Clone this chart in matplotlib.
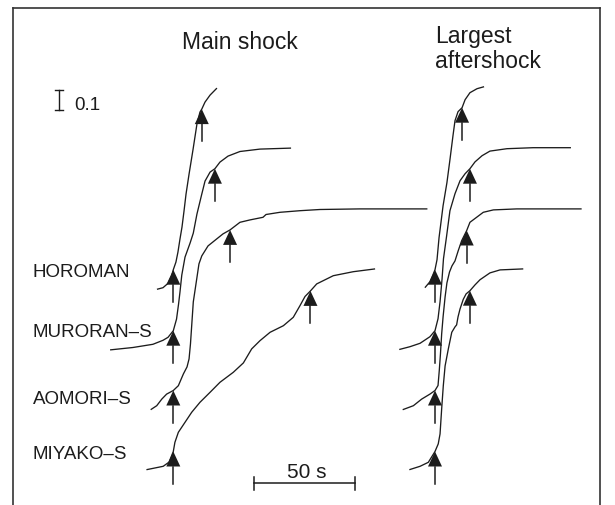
import matplotlib
matplotlib.use("Agg")
import matplotlib.pyplot as plt
from matplotlib.lines import Line2D
import numpy as np

plt.rcParams['font.family'] = ['Liberation Sans', 'DejaVu Sans']

# 台站名
stations = ["HOROMAN", "MURORAN\u2013S", "AOMORI\u2013S", "MIYAKO\u2013S"]

# 主震: 以第一个到时为零点的时间 (s) 与累积振幅
main_t = [
    [-8.1, -5.1, -2.6, -0.9, 0, 1.3, 2.3, 3.3, 4.3, 5.3, 6.3, 7.8, 9.8, 11.7, 13.2, 14.1, 15.7, 18.2, 21.6],
    [-31.3, -20.0, -10.1, -5.1, -2.6, 0, 1.6, 2.6, 3.3, 4.2, 5.8, 8.3, 9.9, 11.7, 14.1, 15.7, 18.2, 20.6,
     23.1, 27.1, 33.0, 42.9, 58.3],
    [-11.2, -8.2, -5.7, -3.3, 0, 2.5, 5.0, 6.8, 7.8, 8.5, 9.1, 9.9, 11.6, 12.7, 14.1, 17.2, 21.5, 24.6, 28.1,
     33.0, 38.0, 44.4, 45.9, 52.8, 62.7, 72.6, 92.4, 125.8],
    [-13.3, -5.0, -2.1, 0, 0.8, 2.5, 5.8, 9.1, 13.2, 18.2, 23.1, 29.7, 34.7, 38.8, 42.9, 47.9, 54.5, 59.4,
     62.7, 65.2, 67.9, 71.0, 79.2, 89.1, 99.9],
]
main_amp = [
    [-0.098, -0.09, -0.068, -0.033, 0, 0.038, 0.088, 0.153, 0.213, 0.293, 0.378, 0.478, 0.603, 0.728, 0.788,
     0.803, 0.838, 0.873, 0.908],
    [-0.096, -0.084, -0.068, -0.048, -0.033, 0, 0.058, 0.133, 0.193, 0.278, 0.368, 0.438, 0.488, 0.583, 0.683,
     0.748, 0.793, 0.81, 0.843, 0.873, 0.896, 0.908, 0.913],
    [-0.096, -0.076, -0.043, -0.018, 0, 0.024, 0.083, 0.118, 0.158, 0.233, 0.323, 0.443, 0.558, 0.633, 0.673,
     0.723, 0.758, 0.783, 0.803, 0.841, 0.853, 0.866, 0.88, 0.891, 0.899, 0.905, 0.908, 0.908],
    [-0.091, -0.074, -0.053, 0, 0.046, 0.096, 0.146, 0.196, 0.246, 0.296, 0.346, 0.396, 0.443, 0.513, 0.554,
     0.596, 0.629, 0.671, 0.729, 0.775, 0.803, 0.838, 0.879, 0.899, 0.913],
]
main_pick2 = [14.1, 20.6, 28.1, 67.9]

# 最大余震
aft_t = [
    [-5.0, -2.5, -1.0, 0, 1.0, 2.0, 4.0, 5.9, 7.4, 8.9, 9.9, 11.4, 13.4, 14.9, 17.3, 20.8, 24.3],
    [-17.7, -12.4, -7.4, -2.5, 0, 1.5, 2.5, 3.5, 4.2, 5.7, 7.4, 9.9, 12.4, 14.9, 17.3, 19.8, 23.3, 27.2,
     35.6, 48.5, 67.3],
    [-16.0, -10.7, -6.6, -2.5, 0, 1.5, 2.1, 2.7, 3.3, 4.0, 5.0, 5.9, 7.2, 8.4, 9.9, 11.5, 13.2, 15.7, 17.3,
     20.6, 23.9, 28.9, 40.5, 72.6],
    [-12.7, -7.4, -3.3, 0, 1.6, 2.5, 3.3, 4.1, 5.0, 6.6, 8.3, 9.9, 10.7, 11.4, 12.4, 14.0, 15.4, 17.3, 19.8,
     22.3, 27.2, 32.2, 43.7],
]
aft_amp = [
    [-0.09, -0.06, -0.025, 0, 0.05, 0.16, 0.32, 0.435, 0.55, 0.67, 0.745, 0.79, 0.81, 0.85, 0.885, 0.905, 0.915],
    [-0.094, -0.08, -0.063, -0.03, 0, 0.06, 0.145, 0.26, 0.36, 0.47, 0.6, 0.685, 0.75, 0.785, 0.81, 0.844,
     0.875, 0.898, 0.91, 0.915, 0.915],
    [-0.096, -0.076, -0.043, -0.018, 0, 0.025, 0.098, 0.183, 0.283, 0.368, 0.468, 0.538, 0.593, 0.623, 0.648,
     0.699, 0.749, 0.80, 0.841, 0.866, 0.891, 0.903, 0.908, 0.908],
    [-0.091, -0.074, -0.054, 0, 0.038, 0.088, 0.213, 0.328, 0.428, 0.513, 0.596, 0.623, 0.633, 0.673, 0.713,
     0.761, 0.788, 0.804, 0.833, 0.859, 0.893, 0.908, 0.913],
]
aft_pick2 = [13.4, 17.3, 15.7, 17.3]

W, H = 615, 506
PX_PER_S = 2.02      # 50 s = 101 px
PX_PER_UNIT = 200.0  # 0.1 = 20 px
INK = '#1c1c1c'

fig = plt.figure(figsize=(W / 100, H / 100), dpi=100)
ax = fig.add_axes([0, 0, 1, 1])
ax.set_xlim(0, W / PX_PER_S)
ax.set_ylim(-H / PX_PER_UNIT, 0)
ax.axis('off')


def px(x, y):
    """像素坐标 -> 数据坐标"""
    return x / PX_PER_S, -y / PX_PER_UNIT


def fx(x):
    return x / W


def fy(y):
    return 1 - y / H


# 各台站起始到时的像素高度, 两个面板的到时横坐标
row_y = [270.7, 331.7, 391.5, 452.5]
panel_x = [173.3, 435.0]

tri_h = 15 / PX_PER_UNIT
tri_w = 7 / PX_PER_S
stem = 32 / PX_PER_UNIT


def draw_pick(x, y):
    ax.fill([x - tri_w, x, x + tri_w], [y - tri_h, y, y - tri_h], color=INK, lw=0, zorder=4)
    ax.plot([x, x], [y - tri_h, y - stem], color=INK, lw=1.1, zorder=4)


for p, (ts, amps, picks) in enumerate([(main_t, main_amp, main_pick2), (aft_t, aft_amp, aft_pick2)]):
    x0, _ = px(panel_x[p], 0)
    for i in range(4):
        _, y0 = px(0, row_y[i])
        t = np.array(ts[i])
        a = np.array(amps[i])
        ax.plot(x0 + t, y0 + a, color=INK, lw=0.95, solid_capstyle='butt', zorder=3)
        draw_pick(x0, y0 + np.interp(0, t, a))
        draw_pick(x0 + picks[i], y0 + np.interp(picks[i], t, a))

# 边框 (无底边)
for xs, ys in [([13, 13], [8.5, 506]), ([13, 600], [8.5, 8.5]), ([600, 600], [8.5, 506])]:
    fig.add_artist(Line2D([fx(v) for v in xs], [fy(v) for v in ys], color='#333333', lw=1.2))

# 标题
ax.text(fx(240), fy(49.3), "Main shock", transform=ax.transAxes, ha='center', va='baseline', fontsize=16.5, color=INK)
ax.text(fx(435), fy(43.3), "Largest", transform=ax.transAxes, ha='left', va='baseline', fontsize=16.5, color=INK)
ax.text(fx(435), fy(68.3), "aftershock", transform=ax.transAxes, ha='left', va='baseline', fontsize=16.5, color=INK)

# 台站名
label_base = [277.3, 337.3, 404.5, 459.0]
for name, yb in zip(stations, label_base):
    ax.text(fx(33), fy(yb), name, transform=ax.transAxes, ha='left', va='baseline', fontsize=13.5, color=INK)

# 振幅比例尺 0.1
bx, by = px(59, 110.5)
ax.plot([bx, bx], [by, by + 0.1], color=INK, lw=1.0)
for yy in [by, by + 0.1]:
    ax.plot([bx - 4 / PX_PER_S, bx + 4 / PX_PER_S], [yy, yy], color=INK, lw=1.0)
ax.text(fx(74), fy(110), "0.1", transform=ax.transAxes, ha='left', va='baseline', fontsize=13.5, color=INK)

# 时间比例尺 50 s
sx, sy = px(254, 484)
ax.plot([sx, sx + 50], [sy, sy], color=INK, lw=1.1)
for xx in [sx, sx + 50]:
    ax.plot([xx, xx], [sy - 6.5 / PX_PER_UNIT, sy + 6.5 / PX_PER_UNIT], color=INK, lw=1.1)
ax.text(fx(307), fy(478.3), "50 s", transform=ax.transAxes, ha='center', va='baseline', fontsize=15, color=INK)

fig.savefig("out.png", dpi=100, facecolor='white')
